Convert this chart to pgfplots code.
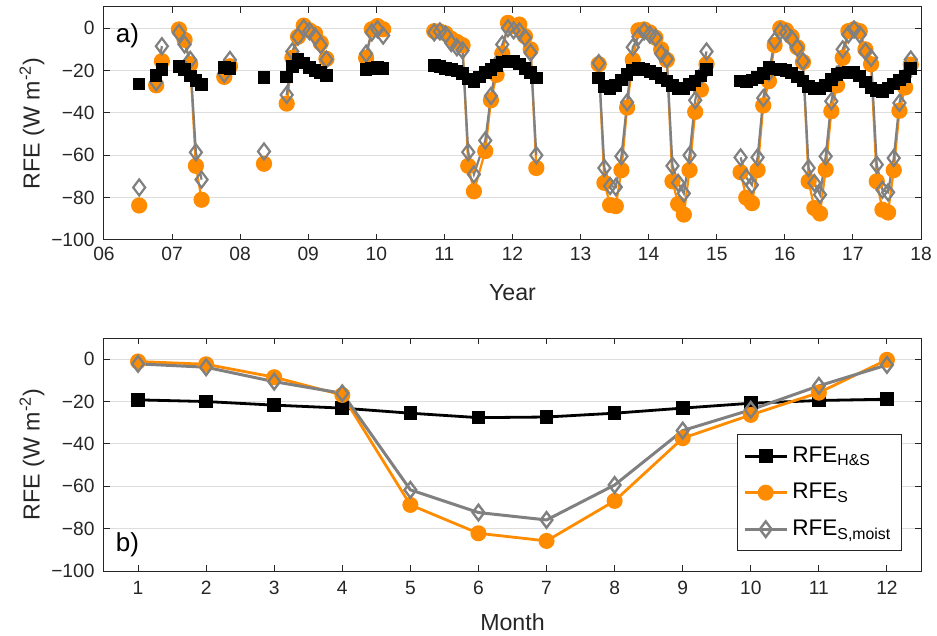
\documentclass[border=0pt]{standalone}
\usepackage{fontspec}
\setmainfont{Liberation Sans}
\usepackage{pgfplots}
\usepackage{pgfplotstable}
\pgfplotsset{compat=1.18}
\definecolor{morange}{RGB}{255,140,0}
\definecolor{mgrey}{RGB}{128,128,128}
\definecolor{axgrey}{RGB}{38,38,38}

% n = months since Jan 2006
\pgfplotstableread{
n v
6 -26.3
7 nan
9 -22.4
10 -19.5
11 nan
13 -18
14 -19.5
15 -22.5
16 -24.6
17 -26.6
18 nan
21 -18.7
22 -19
23 nan
28 -23.2
29 nan
32 -23
33 -18
34 -14.8
35 -16.5
36 -18.5
37 -20
38 -21
39 -22.4
40 nan
46 -19.5
47 -19
48 -18.5
49 -19
50 nan
58 -17.5
59 -18
60 -19
61 -19.5
62 -20.3
63 -21.5
64 -24
65 -25.5
66 -23
67 -21
68 -19.5
69 -17.5
70 -16
71 -15.5
72 -15.8
73 -17
74 -19
75 -21
76 -23.5
77 nan
87 -23.5
88 -27.4
89 -28.5
90 -27
91 -24.5
92 -21.8
93 -19.8
94 -18.8
95 -19.5
96 -20.5
97 -21.5
98 -23.5
99 -25
100 -27
101 -28.5
102 -28.5
103 -26.5
104 -25
105 -22.5
106 -19.5
107 nan
112 -25
113 -25.3
114 -24.5
115 -23.3
116 -21.5
117 -18.7
118 -19.3
119 -19.5
120 -20
121 -21.2
122 -23
123 -25
124 -27.4
125 -28.8
126 -28.5
127 -27
128 -24.3
129 -22
130 -21.1
131 -21
132 -21
133 -22.5
134 -25.5
135 -28.3
136 -29.5
137 -29.8
138 -28.2
139 -26.3
140 -24.5
141 -22.7
142 -19
}\dataH

\pgfplotstableread{
n v
6 -83.7
7 nan
9 -27
10 -15.6
11 nan
13 -0.6
14 -5.5
15 -17
16 -65
17 -81
18 nan
21 -23
22 -18
23 nan
28 -64
29 nan
32 -35.6
33 -14
34 -4
35 1.2
36 -1
37 -2.5
38 -7
39 -14.5
40 nan
46 -14
47 -0.5
48 1
49 -0.5
50 nan
58 -1.4
59 -1.5
60 -2.5
61 -5
62 -6.5
63 -8
64 -65
65 -77
67 -58
68 -34
69 -22
70 -12
71 2.5
72 1
73 1.7
74 -3.8
75 -10
76 -66
77 nan
87 -17
88 -73
89 -83.5
90 -84
91 -67
92 -37.5
93 -15
94 -1
95 -0.6
96 -2
97 -4.5
98 -10
99 -15
100 -72.3
101 -83
102 -88
103 -67
104 -39.5
105 -29
106 -17
107 nan
112 -68
113 -80
114 -82.6
115 -67
116 -36.5
117 -25
118 -8
119 0
120 -1
121 -4
122 -9
123 -16
124 -72.3
125 -84.9
126 -87.5
127 -66.8
128 -39.2
129 -27
130 -14
131 -1.4
132 -0.5
133 -1.4
134 -10
135 -17
136 -72.3
137 -85.7
138 -87
139 -67
140 -39
141 -28
142 -17.2
}\dataS

\pgfplotstableread{
n v
6 -75.2
7 nan
9 -25.5
10 -8.5
11 nan
13 -2.2
14 -7.7
15 -15
16 -58.6
17 -71.5
18 nan
21 -21.5
22 -15
23 nan
28 -58.2
29 nan
32 -31.5
33 -11
34 -4
35 0
36 -1.4
37 -4
38 -8
39 -14.8
40 nan
46 -12
47 -2
48 -0.5
49 -3.5
50 nan
58 -2
59 -1.5
60 -3
61 -7
62 -9
63 -10.5
64 -58.5
65 -69
67 -53
68 -32
69 -17
70 -7.7
71 0
72 -1
73 -1.5
74 -4.5
75 -11.6
76 -60
77 nan
87 -16.5
88 -66
89 -74.5
90 -75
91 -60.5
92 -35
93 -9
94 -4
95 -1.5
96 -3
97 -4.5
98 -12
99 -14.5
100 -65
101 -73
102 -78
103 -60
104 -34
105 -22.5
106 -11
107 nan
112 -61
113 -70.5
114 -74
115 -61
116 -33
117 -21
118 -6
119 -1.5
120 -2.2
121 -5
122 -9.3
123 -15.6
124 -66
125 -73.1
126 -78.6
127 -60.5
128 -34.5
129 -22
130 -10
131 -3
132 -0.6
133 -3
134 -11
135 -14
136 -64.4
137 -76.3
138 -77.5
139 -61.3
140 -35.3
141 -22.7
142 -14.8
}\dataM

\pgfplotstableread{
m hs s sm
1 -19.2 -1.1 -2.2
2 -20.0 -2.4 -3.8
3 -21.7 -8.5 -10.6
4 -23.1 -16.9 -16.1
5 -25.5 -68.8 -61.7
6 -27.6 -82.2 -72.4
7 -27.3 -85.8 -75.9
8 -25.5 -66.9 -59.4
9 -23.1 -37.3 -33.7
10 -20.8 -26.3 -23.9
11 -19.5 -15.8 -12.6
12 -18.9 -0.3 -2.7
}\dataClim

\pgfplotsset{
  panel/.style={
    width=408.5pt, height=116.5pt, scale only axis,
    axis line style={axgrey, line width=0.5pt},
    tick align=inside, major tick length=3pt,
    tick style={axgrey, line width=0.5pt},
    ymin=-100, ymax=10,
    ytick={-100,-80,-60,-40,-20,0},
    yticklabels={−100,−80,−60,−40,−20,0},
    ymajorgrids, grid style={black!13, line width=0.5pt},
    tick label style={font=\fontsize{9.6}{11}\selectfont, text=axgrey},
    yticklabel style={xshift=-1.2pt},
    label style={font=\fontsize{11.6}{13}\selectfont, text=axgrey},
    ylabel={RFE (W m\textsuperscript{-2})},
    ylabel style={at={(axis description cs:-0.0881,0.5)}, anchor=center},
    unbounded coords=jump,
  }
}

\begin{document}
\begin{tikzpicture}
\useasboundingbox (-52pt,3.5pt) rectangle (416.5pt,-314.5pt);

\begin{axis}[panel, at={(0,0)}, anchor=north west,
  xmin=6, xmax=18,
  xtick={6,7,8,9,10,11,12,13,14,15,16,17,18},
  xticklabels={06,07,08,09,10,11,12,13,14,15,16,17,18},
  xlabel={Year},
  xlabel style={at={(axis description cs:0.5,-0.2275)}, anchor=center},
]
\addplot[morange, line width=1.1pt, mark=*, mark size=3.5pt,
  mark options={solid, fill=morange, draw=morange}]
  table[x expr={6+(\thisrow{n}+0.2)/12}, y=v] {\dataS};
\addplot[mgrey, line width=1.1pt, mark=diamond, mark size=4pt,
  mark options={solid, line width=1.1pt}]
  table[x expr={6+(\thisrow{n}+0.2)/12}, y=v] {\dataM};
\addplot[black, line width=1.1pt, mark=square*, mark size=2.6pt]
  table[x expr={6+(\thisrow{n}+0.2)/12}, y=v] {\dataH};
\node[anchor=north west, font=\fontsize{13}{15}\selectfont, text=black, inner sep=0pt]
  at (axis description cs:0.014,0.93) {a)};
\end{axis}

\begin{axis}[panel, at={(0,-165.5pt)}, anchor=north west,
  xmin=0.5, xmax=12.5,
  xtick={1,2,3,4,5,6,7,8,9,10,11,12},
  xticklabels={1,2,3,4,5,6,7,8,9,10,11,12},
  xticklabel style={yshift=-1.5pt},
  xlabel={Month},
  xlabel style={at={(axis description cs:0.5,-0.219)}, anchor=center},
  legend style={at={(axis description cs:0.9764,0.0858)}, anchor=south east,
    draw=axgrey, line width=0.5pt, fill=white,
    font=\fontsize{11.3}{13}\selectfont, row sep=5pt, inner xsep=3pt, inner ysep=4pt},
  legend cell align=left,
  legend image code/.code={\draw[mark repeat=2, mark phase=2, #1]
    plot coordinates {(0cm,0cm) (0.37cm,0cm) (0.74cm,0cm)};},
]
\addplot[black, line width=1.4pt, mark=square*, mark size=2.7pt]
  table[x=m, y=hs] {\dataClim};
\addlegendentry{RFE\textsubscript{H\&S}}
\addplot[morange, line width=1.4pt, mark=*, mark size=3.3pt,
  mark options={solid, fill=morange, draw=morange}]
  table[x=m, y=s] {\dataClim};
\addlegendentry{RFE\textsubscript{S}}
\addplot[mgrey, line width=1.5pt, mark=diamond, mark size=3.9pt,
  mark options={solid, line width=1.2pt}]
  table[x=m, y=sm] {\dataClim};
\addlegendentry{RFE\textsubscript{S,moist}}
\node[anchor=south west, font=\fontsize{13}{15}\selectfont, text=black, inner sep=0pt]
  at (axis description cs:0.014,0.06) {b)};
\end{axis}
\end{tikzpicture}
\end{document}
